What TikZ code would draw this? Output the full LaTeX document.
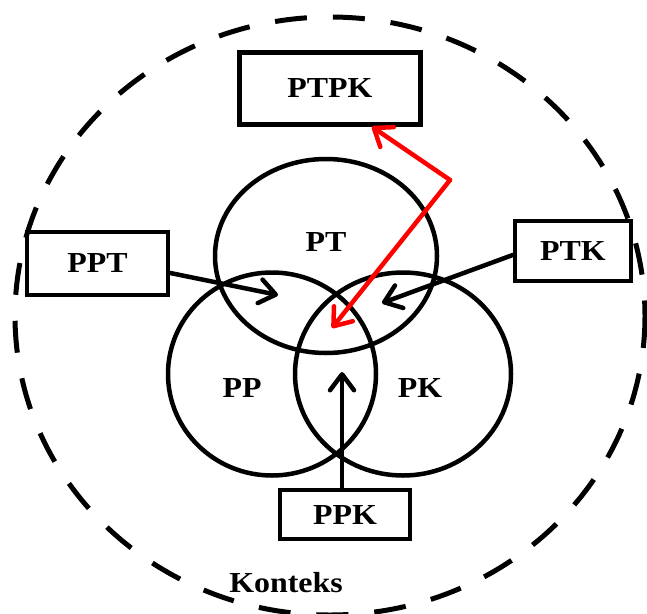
\documentclass[tikz,border=0pt]{standalone}
\usepackage{fontspec}
\setmainfont{Liberation Serif}[FakeStretch=1.1]
\usetikzlibrary{arrows.meta,shapes.geometric}
\tikzset{
  lbl/.style={font=\fontsize{29}{30}\selectfont\bfseries, inner sep=0pt},
  area/.style={draw, ellipse, line width=4.5pt, inner sep=0pt},
  rolebox/.style={draw, rectangle, line width=4.5pt, inner sep=0pt,
    font=\fontsize{29}{30}\selectfont\bfseries},
  link/.style={line width=4.5pt, line cap=round, line join=round,
    -{Straight Barb[length=16pt,width=24pt,line cap=round,line join=round]}},
  redlink/.style={link, red}
}
\begin{document}
\begin{tikzpicture}[x=1pt, y=-1pt]
\useasboundingbox (0,0) rectangle (647,613);

% context boundary
\draw[line width=5pt, dash pattern=on 32pt off 26pt] (330,316) ellipse [x radius=315, y radius=299];

% three overlapping knowledge areas
\node[area, minimum width=222pt, minimum height=194pt] (pt) at (326,256) {};
\node[area, minimum width=208pt, minimum height=203pt] (pp) at (272,374) {};
\node[area, minimum width=216pt, minimum height=203pt] (pk) at (403,374) {};

\node[lbl] (ptl) at (326,242) {PT};
\node[lbl] (ppl) at (242,388) {PP};
\node[lbl] (pkl) at (420,388) {PK};

% combined-knowledge boxes
\node[rolebox, minimum width=181pt, minimum height=72pt] (ptpk) at (330,88.5) {PTPK};
\node[rolebox, minimum width=141pt, minimum height=63pt] (ppt) at (97.5,263.5) {PPT};
\node[rolebox, minimum width=116pt, minimum height=60pt] (ptk) at (573,251) {PTK};
\node[rolebox, minimum width=130pt, minimum height=49pt] (ppk) at (345,514.5) {PPK};

\node[lbl] (ctx) at (286,583) {Konteks};

% arrow targets inside the overlaps
\coordinate (tppt) at (278,295);
\coordinate (tptk) at (382,303);
\coordinate (tppk) at (342,372);
\coordinate (bend) at (450,180);
\coordinate (tcore) at (332,328);

\draw[link] ([yshift=-9.5pt]ppt.east) -- (tppt);
\draw[link] ([yshift=-4pt]ptk.west) -- (tptk);
\draw[link] ([xshift=-3pt]ppk.north) -- (tppk);

% red two-way link between the core and PTPK
\draw[redlink] (bend) -- ([xshift=42pt]ptpk.south);
\draw[redlink] (bend) -- (tcore);
\end{tikzpicture}
\end{document}
